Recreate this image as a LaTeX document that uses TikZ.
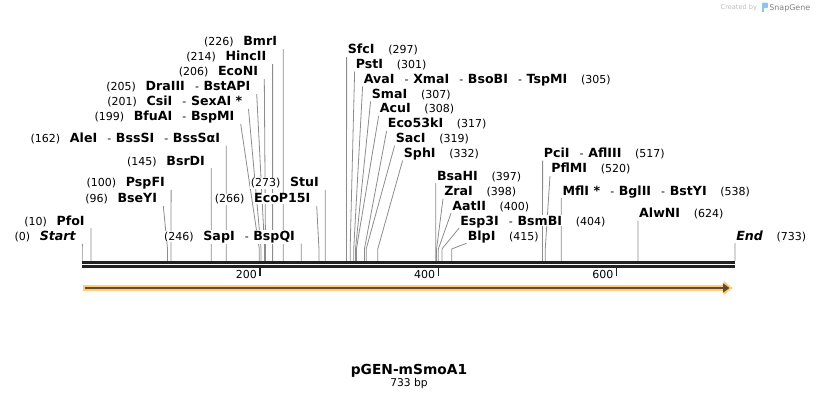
\documentclass[tikz,border=0pt]{standalone}
\usepackage{fontspec}
\setmainfont{DejaVu Sans}
\usetikzlibrary{arrows.meta}

\definecolor{siteline}{HTML}{8C8C8C}
\definecolor{seqline}{HTML}{222222}
\definecolor{featfill}{HTML}{FFCC7A}
\definecolor{featline}{HTML}{5E4C30}
\definecolor{creditgray}{HTML}{BDBDBD}
\definecolor{logoblue}{HTML}{8CC4EE}

\pgfdeclarelayer{bg}
\pgfsetlayers{bg,main}

\setlength{\fboxsep}{0.6pt}
\newcommand{\num}[1]{\colorbox{white}{\fontsize{11}{13}\selectfont(#1)}}
\newcommand{\enz}[1]{\colorbox{white}{\fontsize{12.6}{14}\selectfont\bfseries #1}}
\newcommand{\sep}{\hspace{9.5pt}{\fontsize{11}{13}\selectfont -}\hspace{4pt}}
\newcommand{\gapl}{\hspace{8.5pt}}
\newcommand{\gapr}{\hspace{12.5pt}}

\begin{document}
\begin{tikzpicture}[x=1pt,y=-1pt,
    lft/.style={anchor=south east,inner xsep=5.5pt,inner ysep=0pt,text depth=3pt},
    rgt/.style={anchor=south west,inner xsep=0.5pt,inner ysep=0pt,text depth=3pt},
    site/.style={siteline,line width=0.8pt},
    seq/.style={seqline,line width=2.7pt},
    tick/.style={seqline,line width=1.4pt}]
\useasboundingbox (0,0) rectangle (818,400);

% cut sites on the sequence
\foreach \n in {0,10,96,100,145,162,199,201,205,206,214,226,246,266,273,
                297,301,305,307,308,317,319,332,397,398,400,404,415,517,520,538,624,733}
  \coordinate (s\n) at ({82+\n*0.89086},261);

% labels, left of their line
\node[lft] (BmrI) at (283.3,49) {\num{226}\gapl\enz{BmrI}};
\node[lft] (HincII) at (272.6,64) {\num{214}\gapl\enz{HincII}};
\node[lft] (EcoNI) at (264.3,79) {\num{206}\gapl\enz{EcoNI}};
\node[lft] (DraIII) at (256.7,94) {\num{205}\gapl\enz{DraIII}\sep\enz{BstAPI}};
\node[lft] (CsiI) at (248.5,109) {\num{201}\gapl\enz{CsiI}\sep\enz{SexAI *}};
\node[lft] (BfuAI) at (240.7,124) {\num{199}\gapl\enz{BfuAI}\sep\enz{BspMI}};
\node[lft] (AleI) at (226.3,145.5) {\num{162}\gapl\enz{AleI}\sep\enz{BssSI}\sep\enz{BssSαI}};
\node[lft] (BsrDI) at (211.2,168.2) {\num{145}\gapl\enz{BsrDI}};
\node[lft] (PspFI) at (171.1,189.8) {\num{100}\gapl\enz{PspFI}};
\node[lft] (BseYI) at (163.3,205.8) {\num{96}\gapl\enz{BseYI}};
\node[lft] (PfoI) at (90.9,228.2) {\num{10}\gapl\enz{PfoI}};
\node[lft] (Start) at (82,243.8) {\num{0}\gapl\enz{\itshape Start}};
\node[lft] (SapI) at (301.2,243.5) {\num{246}\gapl\enz{SapI}\sep\enz{BspQI}};
\node[lft] (EcoP15I) at (316.7,206) {\num{266}\gapl\enz{EcoP15I}};
\node[lft] (StuI) at (325.2,190) {\num{273}\gapl\enz{StuI}};

% labels, right of their line
\node[rgt] (SfcI) at (346.6,57) {\enz{SfcI}\gapr\num{297}};
\node[rgt] (PstI) at (354.6,71.7) {\enz{PstI}\gapr\num{301}};
\node[rgt] (AvaI) at (362.6,86.5) {\enz{AvaI}\sep\enz{XmaI}\sep\enz{BsoBI}\sep\enz{TspMI}\gapr\num{305}};
\node[rgt] (SmaI) at (370.6,101.3) {\enz{SmaI}\gapr\num{307}};
\node[rgt] (AcuI) at (378.6,116.1) {\enz{AcuI}\gapr\num{308}};
\node[rgt] (Eco53kI) at (386.6,130.9) {\enz{Eco53kI}\gapr\num{317}};
\node[rgt] (SacI) at (394.6,145.7) {\enz{SacI}\gapr\num{319}};
\node[rgt] (SphI) at (402.6,160.5) {\enz{SphI}\gapr\num{332}};
\node[rgt] (BsaHI) at (435.7,183.2) {\enz{BsaHI}\gapr\num{397}};
\node[rgt] (ZraI) at (443,198.8) {\enz{ZraI}\gapr\num{398}};
\node[rgt] (AatII) at (451,213.2) {\enz{AatII}\gapr\num{400}};
\node[rgt] (Esp3I) at (459,228.2) {\enz{Esp3I}\sep\enz{BsmBI}\gapr\num{404}};
\node[rgt] (BlpI) at (466.5,243.2) {\enz{BlpI}\gapr\num{415}};
\node[rgt] (PciI) at (542.6,160.5) {\enz{PciI}\sep\enz{AflIII}\gapr\num{517}};
\node[rgt] (PflMI) at (550,175.8) {\enz{PflMI}\gapr\num{520}};
\node[rgt] (MflI) at (561.3,198.2) {\enz{MflI *}\sep\enz{BglII}\sep\enz{BstYI}\gapr\num{538}};
\node[rgt] (AlwNI) at (637.9,220.5) {\enz{AlwNI}\gapr\num{624}};
\node[rgt] (End) at (735,243.2) {\enz{\itshape End}\gapr\num{733}};

% site lines behind the labels
\begin{pgfonlayer}{bg}
\draw[site] (s226) -- ++(0,-12) -- (BmrI.south east);
\draw[site] (s214) -- ++(0,-12) -- (HincII.south east);
\draw[site] (s206) -- ++(0,-12) -- (EcoNI.south east);
\draw[site] (s205) -- ++(0,-12) -- (DraIII.south east);
\draw[site] (s201) -- ++(0,-12) -- (CsiI.south east);
\draw[site] (s199) -- ++(0,-12) -- (BfuAI.south east);
\draw[site] (s162) -- ++(0,-12) -- (AleI.south east);
\draw[site] (s145) -- ++(0,-12) -- (BsrDI.south east);
\draw[site] (s100) -- ++(0,-12) -- (PspFI.south east);
\draw[site] (s96) -- ++(0,-12) -- (BseYI.south east);
\draw[site] (s10) -- ++(0,-12) -- (PfoI.south east);
\draw[site] (s0) -- ++(0,-12) -- (Start.south east);
\draw[site] (s246) -- ++(0,-12) -- (SapI.south east);
\draw[site] (s266) -- ++(0,-12) -- (EcoP15I.south east);
\draw[site] (s273) -- ++(0,-12) -- (StuI.south east);
\draw[site] (s297) -- ++(0,-12) -- (SfcI.south west);
\draw[site] (s301) -- ++(0,-12) -- (PstI.south west);
\draw[site] (s305) -- ++(0,-12) -- (AvaI.south west);
\draw[site] (s307) -- ++(0,-12) -- (SmaI.south west);
\draw[site] (s308) -- ++(0,-12) -- (AcuI.south west);
\draw[site] (s317) -- ++(0,-12) -- (Eco53kI.south west);
\draw[site] (s319) -- ++(0,-12) -- (SacI.south west);
\draw[site] (s332) -- ++(0,-12) -- (SphI.south west);
\draw[site] (s397) -- ++(0,-12) -- (BsaHI.south west);
\draw[site] (s398) -- ++(0,-12) -- (ZraI.south west);
\draw[site] (s400) -- ++(0,-12) -- (AatII.south west);
\draw[site] (s404) -- ++(0,-12) -- (Esp3I.south west);
\draw[site] (s415) -- ++(0,-12) -- (BlpI.south west);
\draw[site] (s517) -- ++(0,-12) -- (PciI.south west);
\draw[site] (s520) -- ++(0,-12) -- (PflMI.south west);
\draw[site] (s538) -- ++(0,-12) -- (MflI.south west);
\draw[site] (s624) -- ++(0,-12) -- (AlwNI.south west);
\draw[site] (s733) -- ++(0,-12) -- (End.south west);
\end{pgfonlayer}

% sequence and scale
\draw[seq] (82,262.4) -- (735,262.4);
\draw[seq] (82,266.6) -- (735,266.6);
\foreach \t in {200,400,600} {
  \draw[tick] ({82+\t*0.89086},267.5) -- ++(0,8);
  \node[anchor=base east,inner sep=0pt] (tk\t) at ({82+\t*0.89086-3},278.5) {\fontsize{11}{13}\selectfont\t};
}

% feature arrow
\draw[featfill,line width=5.7pt,-{Triangle[length=9pt,width=14pt]}] (82.7,288) -- (732.5,288);
\draw[featline,line width=2.3pt,-{Triangle[length=6.5pt,width=9pt]}] (85,288) -- (729.5,288);

% name and size
\node[anchor=base,inner sep=0pt] (title) at (409,374.3) {\fontsize{13.8}{16}\selectfont\bfseries pGEN-mSmoA1};
\node[anchor=base,inner sep=0pt] (size) at (409,386.5) {\fontsize{10.7}{13}\selectfont 733 bp};

% credit
\node[anchor=base west,inner sep=0pt,text=creditgray] (made) at (720.5,9.5) {\fontsize{6.6}{8}\selectfont Created by};
\fill[logoblue,rounded corners=1pt] (762,2.5) rectangle (767.8,8.2);
\fill[logoblue] (762,2.5) rectangle (764.3,12);
\node[anchor=base west,inner sep=0pt,text=gray] (sg) at (769.2,10.5) {\fontsize{7.9}{9}\selectfont SnapGene};
\end{tikzpicture}
\end{document}
